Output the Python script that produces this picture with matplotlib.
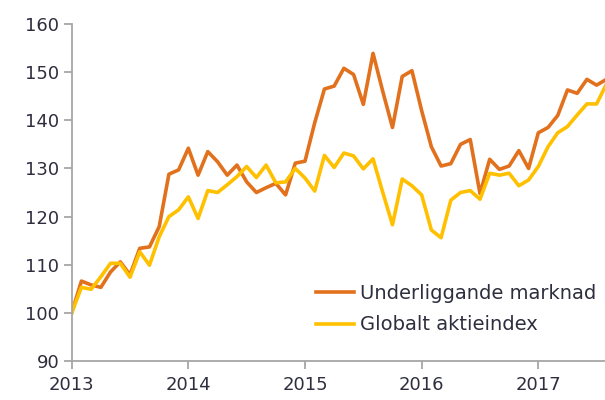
import numpy as np
import matplotlib
matplotlib.use("Agg")
import matplotlib.pyplot as plt

# Monthly data, Jan 2013 .. Jul 2017
start_year = 2013
underliggande = [100.0, 106.6, 105.8, 105.3, 108.5, 110.6, 107.9, 113.4, 113.7, 117.9,
                 128.8, 129.7, 134.2, 128.6, 133.5, 131.4, 128.6, 130.7, 127.2, 125.0,
                 126.0, 126.9, 124.5, 131.1, 131.5, 139.5, 146.5, 147.1, 150.8, 149.5,
                 143.3, 153.9, 146.0, 138.5, 149.1, 150.3, 142.0, 134.5, 130.5, 131.0,
                 135.0, 136.0, 124.8, 131.9, 129.8, 130.5, 133.7, 130.0, 137.4, 138.5,
                 141.0, 146.3, 145.6, 148.5, 147.3, 148.5]
globalt = [100.0, 105.3, 104.9, 107.5, 110.3, 110.3, 107.4, 112.7, 109.9, 115.8,
           120.0, 121.4, 124.1, 119.6, 125.4, 125.0, 126.6, 128.3, 130.4, 128.1,
           130.7, 127.0, 127.2, 130.0, 128.0, 125.3, 132.7, 130.2, 133.2, 132.6,
           129.9, 132.0, 125.0, 118.3, 127.8, 126.4, 124.5, 117.2, 115.6, 123.4,
           125.0, 125.4, 123.6, 129.0, 128.6, 129.0, 126.4, 127.6, 130.4, 134.5,
           137.4, 138.7, 141.1, 143.4, 143.4, 147.5]
series_names = ["Underliggande marknad", "Globalt aktieindex"]
year_ticks = [2013, 2014, 2015, 2016, 2017]
y_ticks = [90, 100, 110, 120, 130, 140, 150, 160]

n = len(underliggande)
x = start_year + np.arange(n) / 12.0

text_color = "#2e2e3e"
axis_color = "#a6a6a6"
orange = "#E2711D"
yellow = "#FFC000"

plt.rcParams['font.family'] = ['DejaVu Sans']

fig = plt.figure(figsize=(6.05, 4.0), dpi=100)
ax = fig.add_axes([71.7 / 605, 39 / 400, 1 - 71.7 / 605, 337 / 400])

ax.plot(x, underliggande, color=orange, lw=2.6, solid_joinstyle='round',
        label=series_names[0])
ax.plot(x, globalt, color=yellow, lw=2.6, solid_joinstyle='round',
        label=series_names[1])

ax.set_xlim(2013, 2013 + (605 - 71.7) / 116.65)
ax.set_ylim(90, 160)
ax.set_xticks(year_ticks)
ax.set_xticklabels([str(y) for y in year_ticks])
ax.set_yticks(y_ticks)

for s in ["top", "right"]:
    ax.spines[s].set_visible(False)
for s in ["left", "bottom"]:
    ax.spines[s].set_color(axis_color)
    ax.spines[s].set_linewidth(1.3)

ax.tick_params(axis='both', colors=axis_color, width=1.3, length=6,
               labelcolor=text_color, labelsize=13)
ax.tick_params(axis='y', pad=3)
ax.tick_params(axis='x', pad=5)

leg = ax.legend(loc='upper left', bbox_to_anchor=(0.444, 0.252), frameon=False,
                fontsize=14, handlelength=1.95, handletextpad=0.3,
                labelspacing=0.65, borderaxespad=0)
for t in leg.get_texts():
    t.set_color(text_color)

fig.savefig("out.png", dpi=100)
